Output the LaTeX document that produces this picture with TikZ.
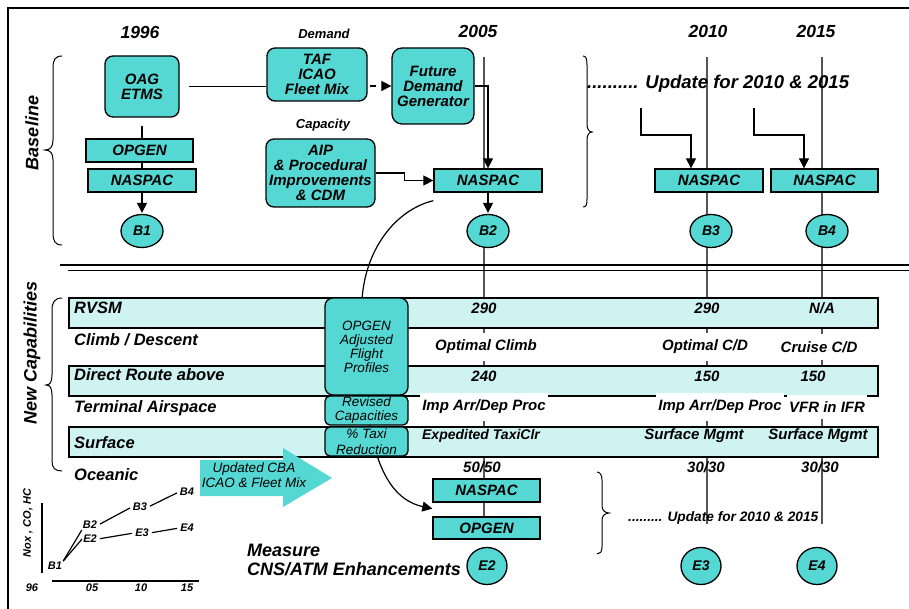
\documentclass[tikz,border=0pt]{standalone}
\usepackage{fontspec}
\setmainfont{Liberation Sans}
\usetikzlibrary{arrows.meta,shapes.geometric,backgrounds}
\definecolor{boxc}{HTML}{55D8D3}
\definecolor{bandc}{HTML}{CEF3F1}
\definecolor{tl}{HTML}{555555}
\newcommand\myfs[1]{\fontsize{#1}{#1}\selectfont}
\begin{document}
\begin{tikzpicture}[x=1pt,y=-1pt,
  rbox/.style={draw, line width=1.3pt, fill=boxc, rounded corners=8pt, align=center, inner sep=0pt, font=\bfseries\itshape\myfs{15}},
  sbox/.style={draw, line width=1.3pt, fill=boxc, align=center, inner sep=0pt, font=\bfseries\itshape\myfs{15}},
  pbox/.style={draw, line width=1.3pt, fill=boxc, rounded corners=8pt, align=center, inner sep=0pt, font=\itshape\fontsize{13.5}{14}\selectfont},
  circ/.style={ellipse, draw, line width=1.3pt, fill=boxc, inner sep=0pt, font=\bfseries\itshape\myfs{14}},
  band/.style={draw, line width=1.3pt, fill=bandc, inner sep=0pt},
  lbl/.style={font=\bfseries\itshape\myfs{16.5}, anchor=west, inner sep=0pt},
  val/.style={font=\bfseries\itshape\myfs{15}, fill=white, inner xsep=2pt, inner ysep=7pt},
  vin/.style={font=\bfseries\itshape\myfs{15}, inner sep=0pt},
  yr/.style={font=\bfseries\itshape\myfs{17.5}, inner sep=0pt},
  arr/.style={line width=1.2pt, -{Triangle[length=10pt,width=10pt]}},
  ln/.style={line width=1.2pt},
  tline/.style={line width=1.3pt, draw=tl},
  chart/.style={font=\bfseries\itshape\myfs{11}, inner sep=1pt},
  brc/.style={line width=1pt}]
\useasboundingbox (0,0) rectangle (909,609);
\clip (0,0) rectangle (909,609);

% frame and separator
\draw[line width=1.5pt] (8,620) -- (8,8) -- (920,8);
\draw[line width=2.5pt] (60,265) -- (920,265);
\draw[line width=1.5pt] (68,270.5) -- (920,270.5);

% years and headings
\node[yr] (y96) at (140,32) {1996};
\node[yr] (y05) at (478,31) {2005};
\node[yr] (y10) at (708,31) {2010};
\node[yr] (y15) at (816,31) {2015};
\node[font=\bfseries\itshape\myfs{13}, inner sep=0pt] (dem) at (324,34) {Demand};
\node[font=\bfseries\itshape\myfs{13}, inner sep=0pt] (capl) at (323,125) {Capacity};
\node[rotate=90, font=\bfseries\itshape\myfs{18}, inner sep=0pt] (base) at (32,133) {Baseline};
\node[rotate=90, font=\bfseries\itshape\myfs{18}, inner sep=0pt] (newc) at (32,353) {New Capabilities};

% baseline boxes
\node[rbox, minimum width=74pt, minimum height=61pt] (oag) at (142,86.5) {OAG\\ETMS};
\node[sbox, minimum width=107pt, minimum height=23pt] (opg1) at (139.5,150.5) {OPGEN};
\node[sbox, minimum width=108pt, minimum height=23pt] (nas1) at (142,180.5) {NASPAC};
\node[circ, minimum width=42pt, minimum height=33pt] (b1) at (142,231) {B1};
\node[rbox, minimum width=100pt, minimum height=53pt] (taf) at (317,74.5) {TAF\\ICAO\\Fleet Mix};
\node[rbox, rounded corners=10pt, minimum width=82pt, minimum height=76pt] (fdg) at (433,86) {Future\\Demand\\Generator};
\node[rbox, minimum width=109pt, minimum height=68pt] (aip) at (320.5,173) {AIP\\\& Procedural\\Improvements\\\& CDM};
\node[sbox, minimum width=108pt, minimum height=23pt] (nas2) at (488,180.5) {NASPAC};
\node[circ, minimum width=42pt, minimum height=33pt] (b2) at (488,231) {B2};
\node[sbox, minimum width=108pt, minimum height=23pt] (nas3) at (709,180.5) {NASPAC};
\node[sbox, minimum width=107pt, minimum height=23pt] (nas4) at (824.5,180.5) {NASPAC};
\node[circ, minimum width=42pt, minimum height=33pt] (b3) at (711,231) {B3};
\node[circ, minimum width=42pt, minimum height=33pt] (b4) at (827,231) {B4};

% lower boxes
\node[sbox, minimum width=107pt, minimum height=23pt] (nas5) at (486.5,490.5) {NASPAC};
\node[sbox, minimum width=107pt, minimum height=22pt] (opg5) at (486.5,528) {OPGEN};

% timelines, bands, curve (background)
\coordinate (t05a) at (484,57);
\coordinate (t10a) at (707,57);
\coordinate (t10b) at (707,524);
\coordinate (t15a) at (822,57);
\coordinate (t15b) at (822,524);
\begin{pgfonlayer}{background}
\draw[tline] (t05a) -- (t05a |- nas2.north);
\draw[tline] (t05a |- b2.south) -- (t05a |- opg5.south);
\draw[tline] (t10a) -- (t10b);
\draw[tline] (t15a) -- (t15b);
\node[band, minimum width=809pt, minimum height=30pt] (rvsm) at (473.5,313) {};
\node[band, minimum width=809pt, minimum height=30pt] (drt) at (473.5,381) {};
\node[band, minimum width=809pt, minimum height=30pt] (srf) at (473.5,442) {};
\draw[ln, -{Triangle[length=10pt,width=10pt]}] ([yshift=-8pt]nas2.south west) .. controls (395,210) and (365,250) .. (362,300) .. controls (362,400) and (368,495) .. ([yshift=-6pt]nas5.south west);
\end{pgfonlayer}

% row labels
\node[lbl] (lrvsm) at (74,308) {RVSM};
\node[lbl] (lclimb) at (74,340) {Climb / Descent};
\node[lbl] (ldirect) at (74,375) {Direct Route above};
\node[lbl] (lterm) at (74,408) {Terminal Airspace};
\node[lbl] (lsurf) at (74,443) {Surface};
\node[lbl] (locean) at (74,475) {Oceanic};

% values
\node[vin] (v1a) at (484,308) {290};
\node[vin] (v1b) at (707,308) {290};
\node[vin] (v1c) at (822,308) {N/A};
\node[val] (v2a) at (486,347) {Optimal Climb};
\node[val] (v2b) at (705,347) {Optimal C/D};
\node[val] (v2c) at (819,347) {Cruise C/D};
\node[vin] (v3a) at (484,376) {240};
\node[vin] (v3b) at (707,376) {150};
\node[vin] (v3c) at (813,376) {150};
\node[val] (v4a) at (484,407) {Imp Arr/Dep Proc};
\node[val] (v4b) at (720,407) {Imp Arr/Dep Proc};
\node[val] (v4c) at (827,407) {VFR in IFR};
\node[vin, font=\bfseries\itshape\myfs{14}] (v5a) at (481,436) {Expedited TaxiClr};
\node[vin] (v5b) at (694,436) {Surface Mgmt};
\node[vin] (v5c) at (818,436) {Surface Mgmt};
\node[vin] (v6a) at (482,467) {50/50};
\node[vin] (v6b) at (706,467) {30/30};
\node[vin] (v6c) at (820,467) {30/30};

% OPGEN adjusted column
\node[pbox, minimum width=83pt, minimum height=97pt] (adj) at (366.5,346.5) {OPGEN\\Adjusted\\Flight\\Profiles};
\node[pbox, rounded corners=5pt, minimum width=83pt, minimum height=29pt] (rev) at (366.5,410.5) {Revised\\Capacities};
\node[pbox, rounded corners=5pt, minimum width=83pt, minimum height=29pt] (taxi) at (366.5,441.5) {\raisebox{2pt}{\% Taxi}\\Reduction};

% Updated CBA arrow
\fill[boxc] (200,460) -- (283,460) -- (283,448) -- (332,478) -- (283,507) -- (283,496) -- (200,496) -- cycle;
\node[font=\itshape\fontsize{13.5}{14.5}\selectfont, align=center, inner sep=0pt] (cba) at (254,475) {Updated CBA\\ICAO \& Fleet Mix};

% measure text and E circles
\node[anchor=west, align=left, font=\bfseries\itshape\fontsize{18}{19}\selectfont, inner sep=0pt] (meas) at (247,560) {Measure\\CNS/ATM Enhancements};
\node[circ, minimum width=40pt, minimum height=37pt] (e2) at (487,566) {E2};
\node[circ, minimum width=40pt, minimum height=37pt] (e3) at (701,566) {E3};
\node[circ, minimum width=40pt, minimum height=37pt] (e4) at (817,566) {E4};

% update texts
\node[anchor=west, font=\bfseries\itshape\myfs{18.5}, inner sep=0pt] (upd1) at (587,84) {.......... Update for 2010 \& 2015};
\node[anchor=west, font=\bfseries\itshape\myfs{13.7}, inner sep=0pt] (upd2) at (628,518) {......... Update for 2010 \& 2015};

% connectors
\draw[ln] ([xshift=9pt]oag.east) -- (oag.east -| taf.west);
\draw[arr, dash pattern=on 6pt off 6pt] ([xshift=2pt]fdg.west -| taf.east) -- (fdg.west);
\draw[arr] (fdg.east) -| (nas2.north);
\draw[arr] (aip.east) -- ++(29,0) |- (nas2.west);
\draw[ln] ([yshift=-8pt]oag.south) -- (oag.south |- opg1.north);
\draw[ln] (oag.south |- opg1.south) -- (oag.south |- nas1.north);
\draw[arr, shorten >=1pt] (nas1.south) -- (b1.north);
\draw[arr, shorten >=1pt] (nas2.south) -- (b2.north);
\coordinate (u3) at (641,108);
\coordinate (u4) at (754,108);
\draw[arr] (u3) -- ++(0,27) -| ([xshift=-18pt]nas3.north);
\draw[arr] (u4) -- ++(0,27) -| ([xshift=-20.5pt]nas4.north);

% braces
\draw[brc] (62,56) .. controls (55,56) and (53,60) .. (53,68) -- (53,140) .. controls (53,147) and (50,150) .. (45,150) .. controls (50,150) and (53,153) .. (53,160) -- (53,233) .. controls (53,241) and (55,245) .. (62,245);
\draw[brc] (62,298) .. controls (55,298) and (52,302) .. (52,310) -- (52,375) .. controls (52,382) and (50,385) .. (46,385) .. controls (50,385) and (52,388) .. (52,395) -- (52,461) .. controls (52,468) and (55,471) .. (62,471);
\draw[brc] (583,56) .. controls (586,56) and (587,59) .. (587,65) -- (587,124) .. controls (587,129) and (589,132) .. (592,132) .. controls (589,132) and (587,135) .. (587,140) -- (587,199) .. controls (587,205) and (586,207) .. (583,207);
\draw[brc] (597,472) .. controls (600,472) and (602,475) .. (602,480) -- (602,506) .. controls (602,510) and (605,513) .. (609,513) .. controls (605,513) and (602,516) .. (602,520) -- (602,547) .. controls (602,552) and (600,554) .. (597,554);

% small chart
\draw[ln] (42,503) -- (42,573);
\draw[ln] (52,581) -- (199,581);
\node[chart] (c96) at (32,588) {96};
\node[chart] (c05) at (92,588) {05};
\node[chart] (c10) at (141,588) {10};
\node[chart] (c15) at (187,588) {15};
\node[chart, rotate=90] (nox) at (28,523) {Nox , CO, HC};
\node[chart] (cb1) at (55,566) {B1};
\node[chart] (cb2) at (90,525) {B2};
\node[chart] (ce2) at (90,539) {E2};
\node[chart] (cb3) at (140,507) {B3};
\node[chart] (ce3) at (142,533) {E3};
\node[chart] (cb4) at (187,492) {B4};
\node[chart] (ce4) at (187,528) {E4};
\draw[ln] (cb1.north east) -- (cb2.south west);
\draw[ln] (cb1.north east) -- (ce2.west);
\draw[ln, shorten <=2pt, shorten >=2pt] (cb2.east) -- (cb3.west);
\draw[ln, shorten <=2pt, shorten >=2pt] (cb3.east) -- (cb4.west);
\draw[ln, shorten <=2pt, shorten >=2pt] (ce2.east) -- (ce3.west);
\draw[ln, shorten <=2pt, shorten >=2pt] (ce3.east) -- (ce4.west);
\end{tikzpicture}
\end{document}
